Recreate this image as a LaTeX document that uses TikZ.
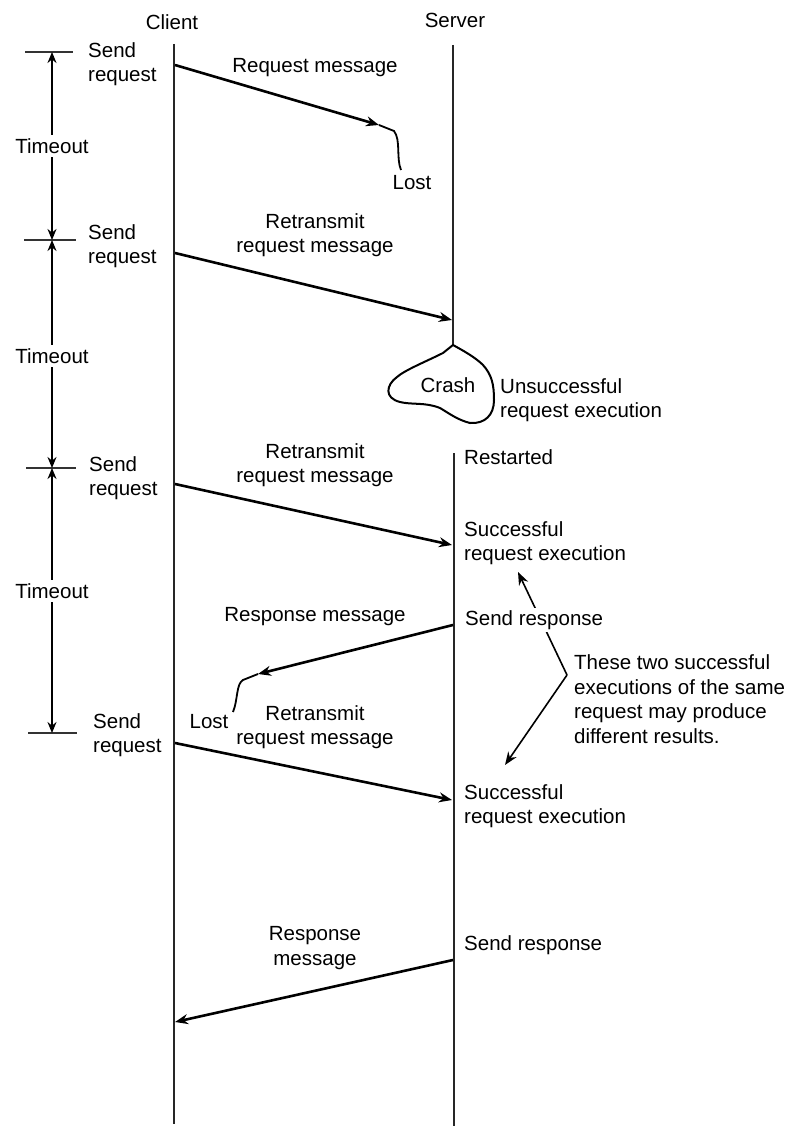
\documentclass[tikz,border=0pt]{standalone}
\usepackage{fontspec}
\setmainfont{Liberation Sans}
\usetikzlibrary{arrows.meta}
\begin{document}
\begin{tikzpicture}[x=1pt,y=-1pt,
  txt/.style={font=\fontsize{20.5}{24.5}\selectfont, inner sep=1pt, align=left},
  ctxt/.style={txt, align=center},
  life/.style={line width=2.4pt, black!85},
  msg/.style={line width=2.6pt, -{Stealth[length=13pt,width=10pt]}},
  plain/.style={line width=1.8pt},
  tick/.style={line width=2pt, black!80},
  dim/.style={line width=1.8pt, {Stealth[length=11pt,width=9pt]}-{Stealth[length=11pt,width=9pt]}},
  note/.style={line width=1.6pt, -{Stealth[length=13pt,width=10pt]}}
]
\useasboundingbox (0,0) rectangle (798,1132);

% headings
\node[ctxt] (client) at (172,22) {Client};
\node[ctxt] (server) at (455,20) {Server};

% lifelines
\coordinate (c0) at (174,44);
\coordinate (c1) at (174,1124);
\coordinate (s0) at (453,45);
\coordinate (crashtop) at (453,345);
\coordinate (r0) at (454,453);
\coordinate (r1) at (454,1126);
\draw[life] (c0) -- (c1);
\draw[life] (s0) -- (crashtop);
\draw[life] (r0) -- (r1);

% crash cloud
\draw[line width=2pt] (crashtop) -- (443,353) .. controls (425,362) and (405,370) .. (397,377)
  .. controls (386,385) and (384,398) .. (400,402)
  .. controls (412,405) and (425,402) .. (440,408)
  .. controls (450,414) and (458,420) .. (470,423)
  .. controls (485,424) and (494,415) .. (494,400)
  .. controls (494,385) and (492,375) .. (483,365)
  .. controls (475,357) and (462,350) .. (crashtop) -- cycle;
\node[txt] (crash) at (448,385) {Crash};
\node[txt, anchor=west] (unsucc) at (499,400) {Unsuccessful\\request execution};

% timeout dimension lines
\coordinate (t1) at (52,52);
\coordinate (t2) at (52,240);
\coordinate (t3) at (52,468);
\coordinate (t4) at (52,733);
\draw[tick] (25,52) -- (73,52);
\draw[tick] (24,240) -- (76,240);
\draw[tick] (26,468) -- (76,468);
\draw[tick] (28,733) -- (77,733);
\draw[dim] (t1) -- (t2);
\draw[dim] (t2) -- (t3);
\draw[dim] (t3) -- (t4);
\node[txt, fill=white, inner sep=3pt] (to1) at (52,146) {Timeout};
\node[txt, fill=white, inner sep=3pt] (to2) at (52,356) {Timeout};
\node[txt, fill=white, inner sep=3pt] (to3) at (52,591) {Timeout};

% send request labels
\node[txt, anchor=west] (sr1) at (87,64) {Send\\request};
\node[txt, anchor=west] (sr2) at (87,246) {Send\\request};
\node[txt, anchor=west] (sr3) at (88,478) {Send\\request};
\node[txt, anchor=west] (sr4) at (92,735) {Send\\request};

% message 1: lost request
\coordinate (m1s) at (175,65);
\coordinate (m1e) at (379,125);
\draw[msg] (m1s) -- (m1e);
\draw[plain] (m1e) -- (394,131) .. controls (401,140) and (396,158) .. (401,170);
\node[txt] (lost1) at (412,183) {Lost};
\node[ctxt] (l1) at (315,68) {Request message};

% message 2: retransmit, server crashes
\coordinate (m2s) at (175,253);
\coordinate (m2e) at (452,320);
\draw[msg] (m2s) -- (m2e);
\node[ctxt] (l2) at (315,235) {Retransmit\\request message};

% message 3: retransmit after restart
\coordinate (m3s) at (175,484);
\coordinate (m3e) at (452,545);
\draw[msg] (m3s) -- (m3e);
\node[ctxt] (l3) at (315,465) {Retransmit\\request message};
\node[txt, anchor=west] (restarted) at (463,457) {Restarted};
\node[txt, anchor=west] (succ1) at (463,543) {Successful\\request execution};

% message 4: lost response
\coordinate (m4s) at (453,625);
\coordinate (m4e) at (258,674);
\draw[msg] (m4s) -- (m4e);
\draw[plain] (m4e) -- (243,680) .. controls (236,684) and (238,700) .. (233,712);
\node[txt] (lost2) at (209,722) {Lost};
\node[ctxt] (l4) at (315,617) {Response message};

% message 5: retransmit again
\coordinate (m5s) at (175,743);
\coordinate (m5e) at (452,800);
\draw[msg] (m5s) -- (m5e);
\node[ctxt] (l5) at (315,727) {Retransmit\\request message};
\node[txt, anchor=west] (succ2) at (463,806) {Successful\\request execution};

% message 6: final response
\coordinate (m6s) at (453,960);
\coordinate (m6e) at (175,1022);
\draw[msg] (m6s) -- (m6e);
\node[ctxt] (l6) at (315,948) {Response\\message};
\node[txt, anchor=west] (sresp2) at (463,945) {Send response};

% annotation
\coordinate (vtx) at (567,675);
\coordinate (up) at (518,572);
\coordinate (down) at (505,765);
\draw[note] (vtx) -- (up);
\draw[note] (vtx) -- (down);
\node[txt, anchor=west, fill=white, inner sep=2pt] (sresp1) at (463,620) {Send response};
\node[txt, anchor=west] (remark) at (573,699) {These two successful\\executions of the same\\request may produce\\different results.};
\end{tikzpicture}
\end{document}
